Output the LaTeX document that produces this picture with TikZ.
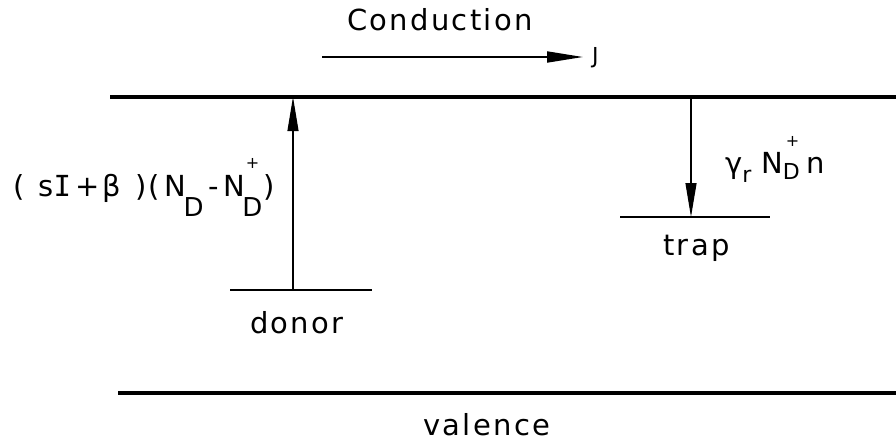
\documentclass[tikz,border=0pt]{standalone}
\usepackage{fontspec}
\setmainfont{DejaVu Sans}
\newfontfamily\plt[LetterSpace=8]{DejaVu Sans}
\newfontfamily\pltmono{DejaVu Sans Mono}
\usetikzlibrary{arrows.meta}
\newcommand\lowsub[2]{{\fontsize{#2}{#2}\selectfont\raisebox{#1}{D}}}
\newcommand\stacksub[4]{{\fontsize{#4}{#4}\selectfont\rlap{\raisebox{#2}{\fontsize{16}{16}\selectfont\kern#3+}}\raisebox{#1}{D}}}
\begin{document}
\begin{tikzpicture}[x=1pt,y=-1pt,
  band/.style={line width=3.3pt},
  level/.style={line width=2.4pt},
  flow/.style={line width=1.1pt,-{Triangle[length=34pt,width=11pt]}},
  cur/.style={line width=1.8pt,-{Triangle[length=36pt,width=11pt]}},
  lbl/.style={inner sep=0pt,anchor=base west,font=\plt\fontsize{29}{34}\selectfont},
  small/.style={inner sep=0pt,anchor=base west,font=\plt\fontsize{22}{26}\selectfont}]
\useasboundingbox (0,0) rectangle (896,442);
% bands
\coordinate (cbL) at (110,97);
\coordinate (cbR) at (896,97);
\coordinate (vbL) at (118,393);
\coordinate (vbR) at (896,393);
\draw[band] (cbL) -- (cbR);
\draw[band] (vbL) -- (vbR);
% donor level
\coordinate (dL) at (230,290);
\coordinate (dR) at (372,290);
\coordinate (dM) at (293,290);
\coordinate (dTop) at (293,97);
\draw[level] (dL) -- (dR);
\draw[flow] (dM) -- (dTop);
% trap level
\coordinate (tL) at (620,217);
\coordinate (tR) at (770,217);
\coordinate (tM) at (691,217);
\coordinate (tTop) at (691,97);
\draw[level] (tL) -- (tR);
\draw[flow] (tTop) -- (tM);
% conduction current
\coordinate (jA) at (322,57);
\coordinate (jB) at (583,57);
\draw[cur] (jA) -- (jB);
% labels
\node[lbl] (cond) at (347,30) {Conduction};
\node[small] (J) at (592,63) {J};
\node[lbl] (donor) at (250,333) {donor};
\node[lbl] (trap) at (663,255) {trap};
\node[lbl] (val) at (423,435) {valence};
\node[lbl] (gen) at (13,196) {(\kern14pt s{\pltmono I}\,+β\kern14pt)(\,N\kern-3pt\lowsub{-20pt}{26}\,-\,N\kern-3pt\stacksub{-20pt}{28pt}{3.5pt}{26}\kern1pt)};
\node[lbl] (rec) at (725,173) {γ\raisebox{-9pt}{\fontsize{22}{22}\selectfont r}\,\,N\stacksub{-6pt}{27pt}{3pt}{22}\kern7pt n};
\end{tikzpicture}
\end{document}
